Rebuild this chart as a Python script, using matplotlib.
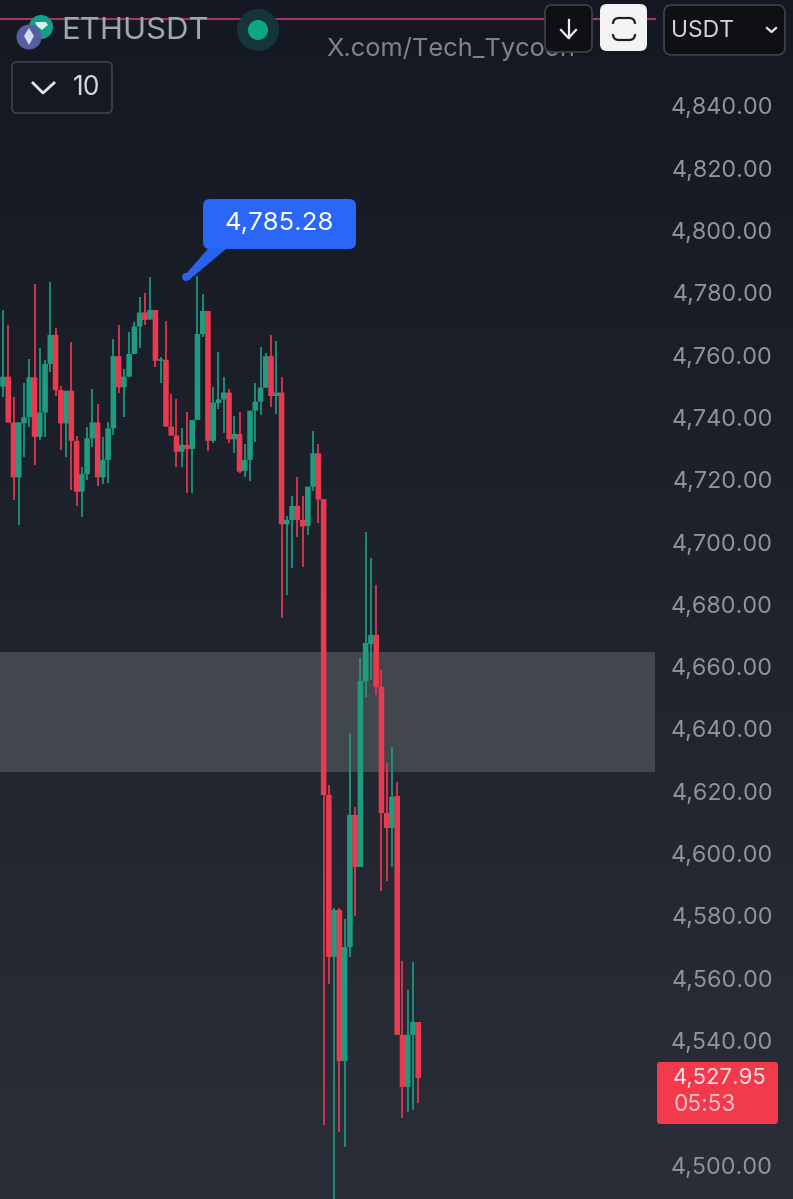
#!/usr/bin/env python3

import matplotlib
matplotlib.use('Agg')
import matplotlib.pyplot as plt
import numpy as np
from matplotlib.patches import FancyBboxPatch, Circle, Polygon

plt.rcParams['font.family'] = ['Inter', 'Liberation Sans', 'DejaVu Sans']

opens = [4749.9, 4753.1, 4738.4, 4720.8, 4738.1, 4740.1, 4752.9, 4733.8, 4741.6, 4757.2,
         4766.5, 4748.8, 4738.1, 4748.6, 4732.5, 4716.2, 4721.8, 4733.3, 4738.4, 4720.8,
         4726.4, 4736.5, 4759.7, 4749.7, 4753.1, 4760.4, 4769.2, 4773.7, 4771.5, 4774.5,
         4758.2, 4758.5, 4737.1, 4734.2, 4729.0, 4731.2, 4729.9, 4739.2, 4766.8, 4774.2,
         4732.5, 4744.6, 4745.8, 4748.0, 4733.0, 4734.7, 4722.9, 4726.4, 4742.2, 4745.1,
         4749.6, 4759.7, 4746.9, 4748.0, 4705.7, 4707.1, 4711.6, 4707.1, 4705.2, 4717.8,
         4728.5, 4713.8, 4618.8, 4566.8, 4581.9, 4533.4, 4570.0, 4612.4, 4595.7, 4655.4,
         4667.3, 4670.2, 4653.5, 4613.0, 4608.2, 4618.5, 4541.8, 4525.1, 4541.8, 4545.9]
closes = [4753.1, 4738.4, 4720.8, 4738.4, 4740.1, 4752.9, 4733.8, 4741.6, 4757.2, 4766.5,
          4748.8, 4738.1, 4748.6, 4732.5, 4716.2, 4721.8, 4733.3, 4738.4, 4720.8, 4726.4,
          4736.5, 4759.7, 4749.7, 4753.1, 4760.4, 4769.2, 4773.7, 4771.3, 4774.5, 4758.2,
          4758.7, 4737.1, 4734.2, 4729.0, 4731.2, 4729.9, 4739.2, 4766.8, 4774.2, 4732.5,
          4744.8, 4745.8, 4748.0, 4733.0, 4734.7, 4722.6, 4726.4, 4742.2, 4745.1, 4749.6,
          4759.7, 4746.9, 4748.0, 4705.7, 4707.1, 4711.6, 4707.1, 4705.0, 4717.8, 4728.5,
          4713.7, 4618.8, 4566.8, 4581.9, 4533.4, 4570.0, 4612.4, 4595.7, 4655.4, 4667.6,
          4670.2, 4653.5, 4613.0, 4608.2, 4618.2, 4541.8, 4525.1, 4541.8, 4545.9, 4527.95]
highs = [4774.5, 4769.7, 4746.7, 4738.4, 4751.2, 4758.7, 4782.9, 4762.2, 4758.5, 4783.4,
         4768.6, 4750.1, 4748.6, 4764.3, 4734.1, 4724.2, 4737.1, 4749.0, 4744.3, 4733.8,
         4738.4, 4765.1, 4769.6, 4755.5, 4767.6, 4770.8, 4778.6, 4779.9, 4785.0, 4774.5,
         4759.3, 4771.0, 4747.4, 4745.8, 4736.5, 4741.9, 4739.2, 4785.28, 4779.5, 4774.2,
         4749.7, 4761.1, 4753.1, 4749.0, 4740.5, 4741.9, 4731.5, 4742.2, 4751.0, 4762.5,
         4760.6, 4766.5, 4764.7, 4752.9, 4708.4, 4714.8, 4721.0, 4714.8, 4717.8, 4735.7,
         4731.5, 4713.8, 4622.0, 4582.5, 4582.5, 4579.0, 4638.7, 4615.0, 4662.8, 4703.2,
         4694.9, 4686.2, 4658.9, 4629.1, 4634.2, 4623.0, 4565.5, 4556.2, 4565.2, 4545.9]
lows = [4746.7, 4738.4, 4713.5, 4705.5, 4727.4, 4737.1, 4724.8, 4732.8, 4733.8, 4754.7,
        4746.9, 4729.6, 4727.2, 4716.7, 4711.6, 4708.2, 4720.0, 4730.4, 4718.0, 4718.7,
        4718.9, 4734.4, 4747.8, 4740.3, 4753.1, 4760.4, 4762.2, 4769.7, 4771.3, 4756.1,
        4751.0, 4737.1, 4734.2, 4724.2, 4724.2, 4715.9, 4715.9, 4739.2, 4765.7, 4729.2,
        4731.9, 4742.7, 4734.9, 4731.7, 4728.7, 4722.3, 4720.8, 4719.7, 4732.2, 4740.8,
        4749.6, 4743.5, 4741.1, 4675.5, 4683.0, 4691.6, 4701.5, 4691.9, 4702.3, 4716.5,
        4706.2, 4512.9, 4558.1, 4487.2, 4510.6, 4505.8, 4566.8, 4580.0, 4595.7, 4650.3,
        4655.7, 4650.9, 4588.0, 4591.2, 4595.7, 4541.8, 4515.1, 4517.0, 4517.7, 4520.0]

price_ticks = [4840, 4820, 4800, 4780, 4760, 4740, 4720, 4700, 4680, 4660,
               4640, 4620, 4600, 4580, 4560, 4540, 4500]
zone_low = 4626.2
zone_high = 4664.7
peak_label = '4,785.28'
last_price = '4,527.95'
countdown = '05:53'
symbol = 'ETHUSDT'
watermark = 'X.com/Tech_Tycoon'

UP = '#1f9c80'
DOWN = '#e83a50'
W, H = 793, 1199

fig = plt.figure(figsize=(W / 100, H / 100), dpi=100)

# background gradient
bg = fig.add_axes([0, 0, 1, 1], zorder=0)
bg.axis('off')
top_c = np.array([20, 24, 34]) / 255
bot_c = np.array([41, 46, 57]) / 255
t = np.linspace(0, 1, 256)[:, None, None]
bg.imshow(top_c * (1 - t) + bot_c * t, aspect='auto')

# chart
ax = fig.add_axes([0, 0, 1, 1], zorder=1)
ax.patch.set_alpha(0)
ax.set_xlim(-0.57, 150.3)
ax.set_ylim(4489.1, 4874.03)
for s in ax.spines.values():
    s.set_visible(False)
ax.set_xticks([])
ax.yaxis.tick_right()
ax.set_yticks(price_ticks)
ax.set_yticklabels([f'{p:,.2f}' for p in price_ticks])
ax.tick_params(axis='y', length=0, pad=-14.5, labelsize=16.8, labelcolor='#8f939b')
for lab in ax.get_yticklabels():
    lab.set_ha('right')

ax.axhspan(zone_low, zone_high, xmin=0, xmax=655 / W, color='#42464d', lw=0, zorder=1)

for i in range(len(opens)):
    c = UP if closes[i] >= opens[i] else DOWN
    ax.vlines(i, lows[i], highs[i], color=c, lw=1.45, alpha=0.85, zorder=2)
    bars = ax.bar(i, abs(closes[i] - opens[i]), bottom=min(opens[i], closes[i]), width=1.06,
                  color=c, lw=0, zorder=3)
    bars[0].set_snap(False)

# overlay in pixels for the app chrome
ui = fig.add_axes([0, 0, 1, 1], zorder=2)
ui.set_xlim(0, W)
ui.set_ylim(H, 0)
ui.axis('off')


def box(x0, y0, x1, y1, fc, ec='none', r=6, lw=1.3, z=3):
    ui.add_patch(FancyBboxPatch((x0 + r, y0 + r), x1 - x0 - 2 * r, y1 - y0 - 2 * r,
                                boxstyle=f'round,pad={r},rounding_size={r}',
                                fc=fc, ec=ec, lw=lw, zorder=z))


# top line
ui.plot([0, 655], [19, 19], color='#a5345f', lw=1.5, zorder=1)

# symbol icons
ui.add_patch(Circle((41, 27), 12, fc='#12a08a', zorder=2))
ui.add_patch(Polygon([[35, 22], [46, 22], [48, 25], [42, 30], [37, 26]], fc='#d9efe9', zorder=2))
ui.add_patch(Circle((29, 37), 12.5, fc='#545ea0', zorder=3))
ui.add_patch(Polygon([[29, 28], [34, 36], [29, 45], [24, 36]], fc='#d5d9f2', zorder=3))
ui.text(61, 31, symbol, fontsize=22.4, color='#a3a6ad', va='center', ha='left', zorder=3)

ui.add_patch(Circle((258, 30), 21, fc='#16353a', zorder=3))
ui.add_patch(Circle((258, 30), 10, fc='#12a583', zorder=3))

ui.text(326, 49, watermark, fontsize=18.3, color='#7f838b', va='center', ha='left', zorder=2)

# interval button
box(12, 62, 112, 113, 'none', ec='#3c3f46', r=5)
ui.plot([33, 43, 54], [83, 93, 83], color='#e4e5e8', lw=2, zorder=4)
ui.text(87, 88, '10', fontsize=19, color='#d5d6da', va='center', ha='center', zorder=4)

# top right buttons
box(545, 5, 592, 52, '#0f1013', ec='#3c3f46', r=7)
ui.plot([568.5, 568.5], [20, 38], color='#f0f0f0', lw=1.6, zorder=4)
ui.plot([561, 568.5, 576], [30, 38, 30], color='#f0f0f0', lw=1.6, zorder=4)
box(600, 4, 647, 51, '#f3f3f5', r=7)
box(613, 18, 635, 40, 'none', ec='#202124', r=6, lw=1.6, z=4)
ui.plot([613, 613], [26, 32], color='#f3f3f5', lw=3, zorder=5)
ui.plot([635, 635], [26, 32], color='#f3f3f5', lw=3, zorder=5)
box(664, 5, 785, 55, '#0f1013', ec='#3c3f46', r=8)
ui.text(671, 31, 'USDT', fontsize=16.5, color='#d5d6da', va='center', ha='left', zorder=4)
ui.plot([767, 771.5, 776], [28, 32, 28], color='#e4e5e8', lw=1.6, zorder=4)

# peak tooltip
ui.add_patch(Polygon([[186, 274], [189, 280], [232, 244], [212, 244]], fc='#2a62f0', zorder=3))
ui.add_patch(Circle((186, 277), 4, fc='#2a62f0', zorder=3))
box(203, 199, 356, 249, '#2a66f7', r=7)
ui.text(279.5, 224, peak_label, fontsize=18.6, color='white', va='center', ha='center', zorder=4)

# last price tag
box(657, 1062, 778, 1124, '#f23a4c', r=3)
ui.text(720, 1078, last_price, fontsize=16, color='#fbe3e5', va='center', ha='center', zorder=4)
ui.text(705, 1105, countdown, fontsize=16.3, color='#f8c3c8', va='center', ha='center', zorder=4)

fig.savefig('out.png', dpi=100)
